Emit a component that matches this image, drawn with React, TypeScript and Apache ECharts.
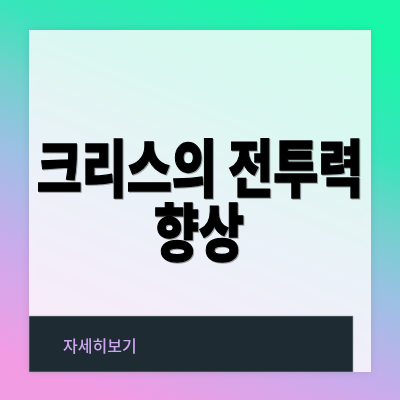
import React, { useEffect, useRef } from "react";
import * as echarts from "echarts";

const titleLines = ["크리스의 전투력", "향상"];
const buttonLabel = "자세히보기";
const bgStops = [
  { offset: 0, color: "#18f8a8" },
  { offset: 0.25, color: "#3ae4bc" },
  { offset: 0.38, color: "#6ed2cc" },
  { offset: 0.55, color: "#9cc0e4" },
  { offset: 0.75, color: "#c8acec" },
  { offset: 1, color: "#f29ce4" },
];

export default function App() {
  const ref = useRef<HTMLDivElement>(null);
  useEffect(() => {
    const chart = echarts.init(ref.current!, null, { renderer: "svg", width: 400, height: 400 });
    const titleFont = {
      fontSize: 49,
      fontWeight: 900,
      fontFamily: "'Noto Sans CJK KR', sans-serif",
      fill: "#000000",
      textAlign: "center",
      textVerticalAlign: "middle",
      stroke: "#000000",
      lineWidth: 1,
      textShadowColor: "rgba(0,0,0,0.35)",
      textShadowOffsetX: 1,
      textShadowOffsetY: 1,
      textShadowBlur: 1,
    };
    chart.setOption({
      animation: false,
      graphic: [
        {
          type: "rect",
          shape: { x: 0, y: 0, width: 400, height: 400 },
          style: {
            fill: new echarts.graphic.LinearGradient(0.7, 0, 0.3, 1, bgStops),
          },
        },
        {
          type: "rect",
          shape: { x: 29, y: 30, width: 342, height: 342 },
          style: {
            fill: "rgba(255,255,255,0.8)",
            shadowBlur: 8,
            shadowColor: "rgba(0,0,0,0.12)",
          },
        },
        {
          type: "rect",
          shape: { x: 29, y: 316, width: 324, height: 56 },
          style: {
            fill: "#1e2b32",
            stroke: "rgba(160,170,180,0.6)",
            lineWidth: 1,
          },
        },
        {
          type: "text",
          x: 63,
          y: 345,
          style: {
            text: buttonLabel,
            x: 0,
            y: 0,
            fontSize: 16,
            fontWeight: 500,
            fontFamily: "'Noto Sans CJK KR', sans-serif",
            fill: "#cba6ee",
            textAlign: "left",
            textVerticalAlign: "middle",
          },
        },
        {
          type: "text",
          x: 200,
          y: 165,
          scaleX: 1.0,
          scaleY: 1.27,
          style: { ...titleFont, text: titleLines[0], x: 0, y: 0 },
        },
        {
          type: "text",
          x: 199,
          y: 229,
          scaleX: 1.0,
          scaleY: 1.27,
          style: { ...titleFont, text: titleLines[1], x: 0, y: 0 },
        },
      ],
    });
    return () => chart.dispose();
  }, []);
  return (
    <div
      ref={ref}
      style={{ position: "fixed", left: 0, top: 0, width: 400, height: 400 }}
    />
  );
}
